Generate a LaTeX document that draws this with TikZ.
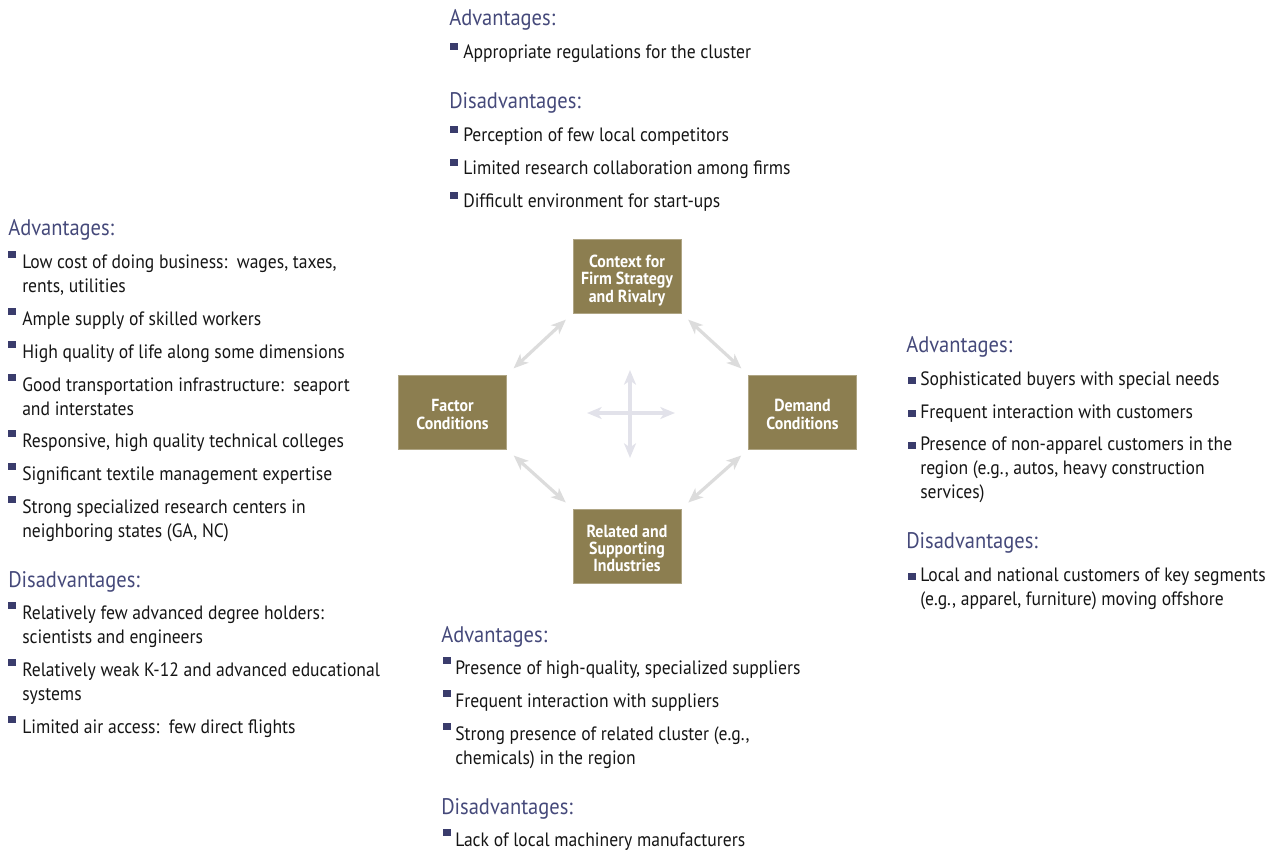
\documentclass[tikz,border=0pt]{standalone}
\usepackage{fontspec}
\setmainfont[FakeStretch=0.91]{PT Sans}
\usetikzlibrary{arrows.meta,calc}
\definecolor{headc}{HTML}{45497A}
\definecolor{bulc}{HTML}{3A3C6C}
\definecolor{boxc}{HTML}{8C7E50}
\definecolor{arrc}{HTML}{DCDCDC}
\definecolor{crossc}{HTML}{E2E2EA}
\definecolor{txtc}{HTML}{151515}
\tikzset{
  head/.style={anchor=base west,inner sep=0pt,text=headc,font=\fontsize{16.9pt}{19pt}\selectfont},
  itm/.style={anchor=base west,inner sep=0pt,text=txtc,font=\fontsize{14.5pt}{18pt}\selectfont},
  bul/.style={anchor=south west,fill=bulc,inner sep=0pt,minimum width=5.8pt,minimum height=5.4pt},
  fbox/.style={fill=boxc,draw=boxc!70!white,line width=0.4pt,minimum width=81pt,minimum height=55.5pt,
    text=white,align=center,font=\fontsize{13.1pt}{13pt}\selectfont\bfseries,inner sep=1pt},
  darr/.style={draw=arrc,line width=2.4pt,{Stealth[length=11pt,width=9pt,inset=3pt]}-{Stealth[length=11pt,width=9pt,inset=3pt]},shorten <=7pt,shorten >=7pt},
  carr/.style={draw=crossc,line width=2.6pt,{Stealth[length=11pt,width=9pt,inset=3pt]}-{Stealth[length=11pt,width=9pt,inset=3pt]}}
}
% name, bullet x, bullet offset above baseline, text x, baseline y, text
\newcommand\bitem[6]{%
  \node[bul] (#1b) at (#2,#5-#3) {};
  \node[itm] (#1) at (#4,#5) {\parbox[t]{340pt}{\raggedright #6}};
}
\begin{document}
\begin{tikzpicture}[x=0.75pt,y=-0.75pt]
\useasboundingbox (0,0) rectangle (1272,850);

% boxes
\node[fbox] (ctx) at (627,276) {\rule{0pt}{16pt}Context for\\Firm Strategy\\and Rivalry};
\node[fbox] (fac) at (452.5,412) {\rule{0pt}{13pt}Factor\\Conditions};
\node[fbox] (dem) at (802.5,412) {\rule{0pt}{13pt}Demand\\Conditions};
\node[fbox] (rel) at (627,546) {\rule{0pt}{13pt}Related and\\Supporting\\Industries};

% diagonal arrows
\draw[darr] (fac.north east) -- (ctx.south west);
\draw[darr] (ctx.south east) -- (dem.north west);
\draw[darr] (fac.south east) -- (rel.north west);
\draw[darr] (rel.north east) -- (dem.south west);

% central cross
\coordinate (cw) at (587,413);
\coordinate (ce) at (675,413);
\coordinate (cn) at (630,370);
\coordinate (cs) at (630,458);
\draw[carr] (cw) -- (ce);
\draw[carr] (cn) -- (cs);

% top block
\node[head] (tA) at (449,25) {Advantages:};
\bitem{t1}{450}{8}{463}{58}{Appropriate regulations for the cluster}
\node[head] (tD) at (449,108) {Disadvantages:};
\bitem{t2}{450}{8}{463}{141}{Perception of few local competitors}
\bitem{t3}{450}{8}{463}{174}{Limited research collaboration among firms}
\bitem{t4}{450}{8}{463}{207}{Difficult environment for start-ups}

% left block
\node[head] (lA) at (8,235) {Advantages:};
\bitem{l1}{8}{10}{22}{268}{Low cost of doing business:\ \ wages, taxes,\\rents, utilities}
\bitem{l2}{8}{10}{22}{325}{Ample supply of skilled workers}
\bitem{l3}{8}{10}{22}{358}{High quality of life along some dimensions}
\bitem{l4}{8}{10}{22}{391}{Good transportation infrastructure:\ \ seaport\\and interstates}
\bitem{l5}{8}{10}{22}{447}{Responsive, high quality technical colleges}
\bitem{l6}{8}{10}{22}{480}{Significant textile management expertise}
\bitem{l7}{8}{10}{22}{513}{Strong specialized research centers in\\neighboring states (GA, NC)}
\node[head] (lD) at (8,587) {Disadvantages:};
\bitem{l8}{8}{10}{22}{619}{Relatively few advanced degree holders:\\scientists and engineers}
\bitem{l9}{8}{10}{22}{676}{Relatively weak K-12 and advanced educational\\systems}
\bitem{l10}{8}{10}{22}{733}{Limited air access:\ \ few direct flights}

% right block
\node[head] (rA) at (906,352) {Advantages:};
\bitem{r1}{908}{1}{920}{385}{Sophisticated buyers with special needs}
\bitem{r2}{908}{1}{920}{418}{Frequent interaction with customers}
\bitem{r3}{908}{1}{920}{450}{Presence of non-apparel customers in the\\region (e.g., autos, heavy construction\\services)}
\node[head] (rD) at (906,548) {Disadvantages:};
\bitem{r4}{908}{1}{920}{581}{Local and national customers of key segments\\(e.g., apparel, furniture) moving offshore}

% bottom block
\node[head] (bA) at (441,642) {Advantages:};
\bitem{b1}{443}{10}{455}{674}{Presence of high-quality, specialized suppliers}
\bitem{b2}{443}{10}{455}{707}{Frequent interaction with suppliers}
\bitem{b3}{443}{10}{455}{740}{Strong presence of related cluster (e.g.,\\chemicals) in the region}
\node[head] (bD) at (441,814) {Disadvantages:};
\bitem{b4}{443}{10}{455}{846}{Lack of local machinery manufacturers}
\end{tikzpicture}
\end{document}
